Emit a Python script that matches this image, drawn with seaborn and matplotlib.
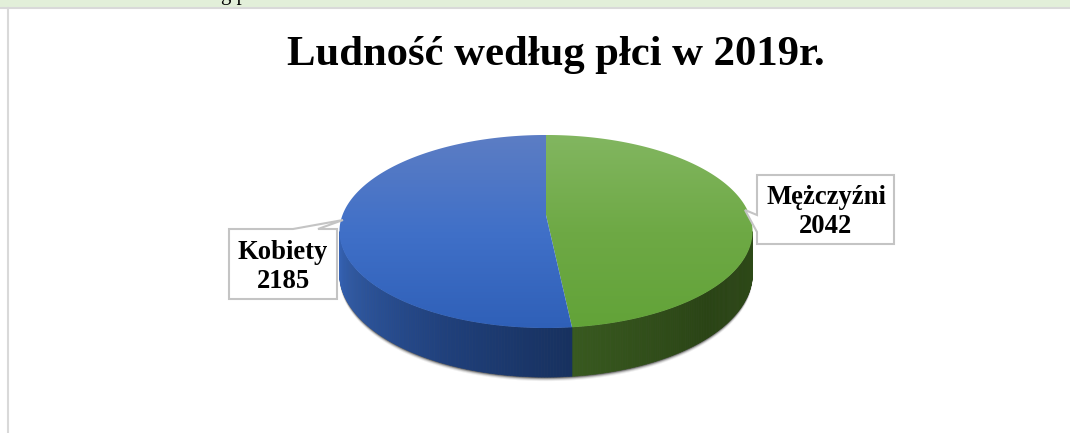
import numpy as np
import matplotlib.pyplot as plt
from matplotlib.patches import Polygon
import seaborn as sns

labels = ["Mężczyźni", "Kobiety"]
values = [2042, 2185]
title = "Ludność według płci w 2019r."

top_colors = [["#82b660", "#6ea945", "#62a338"], ["#5c7dc4", "#4070c8", "#2f60b8"]]
wall_colors = [["#2e4a18", "#2a4415", "#38591f"], ["#17315f", "#1f3f7a", "#2b5298", "#3764b6"]]

sns.set_theme(style="white")
plt.rcParams['font.family'] = ['Liberation Serif', 'DejaVu Serif']

# pixel coords, so the full page fits one axes
fig = plt.figure(figsize=(10.7, 4.33), dpi=100)
ax = fig.add_axes([0, 0, 1, 1])
ax.set_xlim(0, 1070)
ax.set_ylim(433, 0)
ax.axis("off")

# perspective disc: back edge y=135, centre y=215, front edge y=328
CX, CY = 546, 215
K = 0.171
A = 203.5
B = 93.7
DEPTH = 40.7


def disc(phi):
    phi = np.radians(phi)
    w = 1 + K * np.cos(phi)
    return CX + A * np.sin(phi) / w, CY - B * np.cos(phi) / w, DEPTH / w


# page furniture
ax.axhspan(0, 7, color="#e2efd9", lw=0)
ax.plot([0, 1070], [8, 8], color="#d9d9d9", lw=1.5)
ax.plot([8, 8], [8, 433], color="#d9d9d9", lw=1.5)
ax.text(221, 0, "g p", fontsize=15, color="black", va="baseline", ha="left")

fracs = np.array(values) / sum(values)
edges = np.concatenate([[0], np.cumsum(fracs) * 360])
right_phi = np.degrees(np.arccos(-K))
left_phi = 360 - right_phi

# soft shadow under the wall
sil = np.linspace(right_phi, left_phi, 200)
sx, sy, sd = disc(sil)
for off, al in zip([4, 3, 2, 1], [0.08, 0.15, 0.3, 0.5]):
    ax.fill(np.r_[sx, sx[::-1]], np.r_[sy + sd + off, sy[::-1]],
            color="#303030", alpha=al, lw=0, zorder=1)

# side wall, built from thin quads
for i in range(len(values)):
    start = max(edges[i], right_phi)
    stop = min(edges[i + 1], left_phi)
    phis = np.linspace(start, stop, 121)
    pal = sns.blend_palette(wall_colors[i], n_colors=len(phis) - 1)
    for j, c in enumerate(pal):
        qx, qy, qd = disc(np.array([phis[j], phis[j + 1]]))
        ax.fill([qx[0], qx[1], qx[1], qx[0]],
                [qy[0], qy[1], qy[1] + qd[1], qy[0] + qd[0]],
                color=c, lw=0.4, zorder=2)

# top face slices with vertical gradient
ylo, yhi = 135, 329
for i in range(len(values)):
    phis = np.linspace(edges[i], edges[i + 1], 200)
    px, py, _ = disc(phis)
    poly = Polygon(np.c_[np.r_[CX, px], np.r_[CY, py]], closed=True,
                   transform=ax.transData, fc="none", ec="none")
    ax.add_patch(poly)
    pal = sns.blend_palette(top_colors[i], n_colors=256)
    grad = np.array(pal).reshape(256, 1, 3)
    im = ax.imshow(grad, extent=[330, 760, yhi, ylo], aspect="auto", zorder=3)
    im.set_clip_path(poly)
ax.set_xlim(0, 1070)
ax.set_ylim(433, 0)

ax.text(556, 55, title, fontsize=30.7, fontweight="bold", color="black",
        ha="center", va="center")

# callouts
boxes = [
    [(757, 175), (894, 175), (894, 244), (757, 244), (757, 232), (745, 210), (757, 215)],
    [(229, 229), (293, 229), (343, 220), (318, 229), (337, 229), (337, 299), (229, 299)],
]
text_pos = [(826, 212), (283, 267)]
for i in range(len(values)):
    ax.add_patch(Polygon(boxes[i], closed=True, fc="white", ec="#c4c4c4", lw=1.5, zorder=4))
    ax.text(text_pos[i][0], text_pos[i][1], f"{labels[i]}\n{values[i]}", fontsize=19.2,
            fontweight="bold", color="black", ha="center", va="center",
            linespacing=1.2, zorder=5)

fig.savefig("out.png", dpi=100)
